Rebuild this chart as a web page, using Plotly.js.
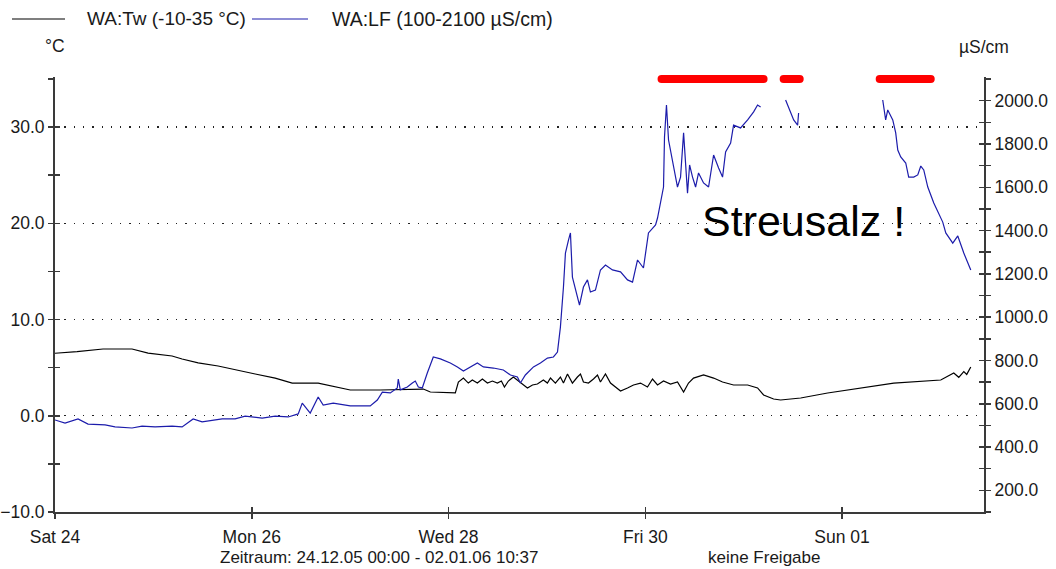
<!DOCTYPE html>
<html><head><meta charset="utf-8">
<script src="https://cdn.plot.ly/plotly-3.0.1.min.js"></script>
<style>html,body{margin:0;padding:0;background:#fff}</style>
</head><body><div id="chart" style="width:1056px;height:569px"></div>
<script>
// ---- data ----
const dayTickVals = [0, 2, 4, 6, 8];
const dayTickText = ['Sat 24', 'Mon 26', 'Wed 28', 'Fri 30', 'Sun 01'];
const periodEnd = 9.4424; // 02.01.06 10:37 in days after 24.12.05 00:00

// WA:Tw water temperature (°C), x in days since Sat 24 00:00
const tempDays = [0, 0.224, 0.488, 0.783, 0.946, 1.190, 1.292, 1.455, 1.658, 1.862, 2.035, 2.238, 2.411, 2.675, 3.001, 3.306, 3.744, 3.815, 4.069, 4.100, 4.151, 4.201, 4.242, 4.293, 4.344, 4.395, 4.446, 4.496, 4.537, 4.568, 4.608, 4.659, 4.710, 4.761, 4.802, 4.853, 4.903, 4.964, 5.005, 5.036, 5.086, 5.137, 5.168, 5.209, 5.259, 5.310, 5.341, 5.371, 5.422, 5.473, 5.514, 5.544, 5.595, 5.646, 5.697, 5.748, 5.819, 5.880, 5.951, 6.022, 6.073, 6.124, 6.185, 6.256, 6.327, 6.389, 6.439, 6.490, 6.592, 6.694, 6.785, 6.897, 7.040, 7.141, 7.202, 7.304, 7.375, 7.579, 7.853, 8.189, 8.525, 9.003, 9.135, 9.186, 9.237, 9.267, 9.308];
const tempValues = [6.5, 6.66, 6.94, 6.94, 6.52, 6.21, 5.9, 5.49, 5.17, 4.76, 4.34, 3.92, 3.4, 3.4, 2.68, 2.68, 2.78, 2.47, 2.37, 3.51, 3.92, 3.40, 3.72, 3.40, 3.82, 3.40, 3.61, 3.40, 3.61, 2.99, 3.61, 4.03, 3.61, 3.20, 2.89, 3.20, 3.30, 3.72, 3.40, 3.92, 3.40, 4.03, 3.40, 4.34, 3.40, 4.03, 4.34, 3.51, 3.40, 3.82, 4.24, 3.51, 4.34, 3.40, 2.99, 2.57, 2.89, 3.20, 3.40, 2.99, 3.82, 3.20, 3.61, 3.30, 3.51, 2.47, 3.4, 3.92, 4.24, 3.92, 3.51, 3.20, 3.20, 2.89, 2.16, 1.74, 1.64, 1.85, 2.37, 2.89, 3.40, 3.72, 4.44, 4.0, 4.6, 4.3, 5.07];

// WA:LF conductivity (µS/cm); null = gap (out of range)
const lfDays = [0, 0.102, 0.234, 0.336, 0.509, 0.610, 0.783, 0.885, 1.017, 1.190, 1.292, 1.404, 1.495, 1.699, 1.831, 1.933, 2.106, 2.238, 2.370, 2.472, 2.513, 2.543, 2.594, 2.675, 2.726, 2.828, 3.001, 3.204, 3.276, 3.327, 3.408, 3.479, 3.489, 3.510, 3.581, 3.632, 3.662, 3.693, 3.733, 3.784, 3.845, 3.917, 4.018, 4.090, 4.151, 4.293, 4.354, 4.456, 4.557, 4.629, 4.700, 4.730, 4.781, 4.863, 4.934, 5.005, 5.066, 5.107, 5.137, 5.168, 5.188, 5.219, 5.239, 5.259, 5.290, 5.331, 5.371, 5.412, 5.442, 5.493, 5.544, 5.595, 5.666, 5.748, 5.819, 5.870, 5.921, 5.981, 6.032, 6.104, 6.124, 6.165, 6.185, 6.195, 6.215, 6.236, 6.287, 6.327, 6.358, 6.389, 6.429, 6.450, 6.480, 6.511, 6.541, 6.592, 6.643, 6.694, 6.745, 6.785, 6.816, 6.867, 6.897, 6.968, 7.040, 7.101, 7.141, 7.172, 7.30, 7.426, 7.508, 7.548, 7.558, 8.0, 8.413, 8.443, 8.464, 8.515, 8.545, 8.566, 8.596, 8.647, 8.677, 8.728, 8.769, 8.800, 8.830, 8.871, 8.932, 9.023, 9.054, 9.125, 9.176, 9.237, 9.308];
const lfValues = [525, 511, 530, 506, 502, 493, 488, 497, 493, 497, 493, 530, 516, 530, 530, 543, 534, 543, 539, 553, 603, 585, 557, 631, 594, 603, 590, 590, 617, 654, 650, 673, 714, 664, 677, 696, 705, 677, 673, 742, 816, 807, 788, 770, 751, 788, 770, 765, 756, 733, 724, 696, 733, 770, 788, 811, 816, 839, 954, 1139, 1296, 1356, 1389, 1185, 1125, 1056, 1139, 1172, 1116, 1125, 1218, 1241, 1218, 1209, 1172, 1162, 1264, 1227, 1389, 1426, 1458, 1555, 1601, 1832, 1980, 1818, 1693, 1601, 1647, 1851, 1573, 1703, 1647, 1601, 1666, 1620, 1601, 1749, 1689, 1647, 1763, 1804, 1887, 1874, 1911, 1948, 1980, 1971, null, 2003, 1911, 1887, 1943, null, 2003, 1911, 1957, 1911, 1851, 1772, 1740, 1712, 1647, 1647, 1657, 1698, 1680, 1601, 1527, 1439, 1389, 1342, 1375, 1296, 1218];

// red flag periods (days)
const flagStart = [6.165, 6.450, 7.406, 8.382];
const flagEnd = [6.439, 7.202, 7.569, 8.901];

// ---- layout geometry ----
const W = 1056, H = 569, ML = 55, MR = 72, MT = 73, MB = 57;
const plotW = W - ML - MR, plotH = H - MT - MB;
const px = x => (x - ML) / plotW;
const py = y => (H - MB - y) / plotH;
const mainTop = py(79);
const FONT = '"Liberation Sans Narrow", "Arial Narrow", "Liberation Sans", Arial, sans-serif';
const TXT = '#1a1a1a';
const AX = '#3a3a3a';

const flagX = [], flagY = [];
flagStart.forEach((s, i) => { flagX.push(s, flagEnd[i], null); flagY.push(0.5, 0.5, null); });

const traces = [
  {x: tempDays, y: tempValues, xaxis: 'x', yaxis: 'y', mode: 'lines', line: {color: '#000', width: 1.2}, hoverinfo: 'skip'},
  {x: lfDays, y: lfValues, xaxis: 'x', yaxis: 'y2', mode: 'lines', connectgaps: false, line: {color: '#1c1cab', width: 1.2}, hoverinfo: 'skip'},
  {x: flagX, y: flagY, xaxis: 'x', yaxis: 'y5', mode: 'lines+markers', line: {color: '#ff0000', width: 8}, marker: {color: '#ff0000', size: 8}, hoverinfo: 'skip'},
  {x: [], y: [], xaxis: 'x2', yaxis: 'y', hoverinfo: 'skip'},
  {x: [], y: [], xaxis: 'x', yaxis: 'y3', hoverinfo: 'skip'},
  {x: [], y: [], xaxis: 'x', yaxis: 'y4', hoverinfo: 'skip'}
];

const tickFont = {family: FONT, size: 17.5, color: TXT};
const layout = {
  width: W, height: H,
  margin: {l: ML, r: MR, t: MT, b: MB, pad: 0},
  paper_bgcolor: '#fff', plot_bgcolor: '#fff',
  showlegend: false,
  font: {family: FONT, color: TXT},
  xaxis: {
    domain: [0, 1], anchor: 'y', range: [0, periodEnd], tickmode: 'array',
    tickvals: dayTickVals, ticktext: dayTickText, ticks: 'outside', ticklen: 5, tickwidth: 1.5, tickcolor: AX,
    showline: true, linecolor: AX, linewidth: 2, mirror: true, showgrid: false, zeroline: false,
    tickfont: tickFont, ticklabelstandoff: 3
  },
  xaxis2: {
    overlaying: 'x', anchor: 'y', side: 'bottom', range: [0, periodEnd], tickmode: 'array',
    tickvals: dayTickVals, ticks: 'inside', ticklen: 5, tickwidth: 1.5, tickcolor: AX,
    showticklabels: false, showline: false, showgrid: false, zeroline: false
  },
  yaxis: {
    domain: [0, mainTop], anchor: 'x', range: [-10, 35], tickmode: 'linear', tick0: -10, dtick: 10,
    tickformat: '.1f', ticks: 'outside', ticklen: 5, tickwidth: 1.5, tickcolor: AX,
    minor: {tickmode: 'linear', tick0: -10, dtick: 5, ticks: 'outside', ticklen: 5, tickwidth: 1.5, tickcolor: AX, showgrid: false},
    showline: true, linecolor: AX, linewidth: 2, zeroline: false,
    showgrid: true, gridcolor: '#222', gridwidth: 1.3, griddash: '1.3px,8px',
    tickfont: tickFont
  },
  yaxis2: {
    overlaying: 'y', side: 'right', anchor: 'x', range: [100, 2100], tickmode: 'linear', tick0: 200, dtick: 200,
    tickformat: '.1f', ticks: 'outside', ticklen: 5, tickwidth: 1.5, tickcolor: AX,
    minor: {tickmode: 'linear', tick0: 100, dtick: 100, ticks: 'outside', ticklen: 5, tickwidth: 1.5, tickcolor: AX, showgrid: false},
    showline: true, linecolor: AX, linewidth: 2, showgrid: false, zeroline: false,
    tickfont: tickFont
  },
  yaxis3: {
    overlaying: 'y', side: 'left', anchor: 'x', range: [-10, 35], tickmode: 'linear', tick0: -10, dtick: 5,
    ticks: 'inside', ticklen: 5, tickwidth: 1.5, tickcolor: AX,
    showticklabels: false, showline: false, showgrid: false, zeroline: false
  },
  yaxis4: {
    overlaying: 'y', side: 'right', anchor: 'x', range: [100, 2100], tickmode: 'linear', tick0: 100, dtick: 100,
    ticks: 'inside', ticklen: 5, tickwidth: 1.5, tickcolor: AX,
    showticklabels: false, showline: false, showgrid: false, zeroline: false
  },
  yaxis5: {
    domain: [py(85), 1], anchor: 'x', range: [0, 1], visible: false, fixedrange: true
  },
  shapes: [
    {type: 'line', xref: 'paper', yref: 'paper', x0: px(12), x1: px(65), y0: py(19), y1: py(19), line: {color: '#000', width: 1.2}},
    {type: 'line', xref: 'paper', yref: 'paper', x0: px(252), x1: px(308), y0: py(19), y1: py(19), line: {color: '#1c1cab', width: 1.2}}
  ],
  annotations: [
    {xref: 'paper', yref: 'paper', x: px(85), y: py(19), xanchor: 'left', yanchor: 'middle', showarrow: false, text: 'WA:Tw (-10-35 °C)', font: {family: FONT, size: 19, color: TXT}},
    {xref: 'paper', yref: 'paper', x: px(330), y: py(19), xanchor: 'left', yanchor: 'middle', showarrow: false, text: 'WA:LF (100-2100 µS/cm)', font: {family: FONT, size: 19.5, color: TXT}},
    {xref: 'paper', yref: 'paper', x: px(55), y: py(46), xanchor: 'center', yanchor: 'middle', showarrow: false, text: '°C', font: {family: FONT, size: 17.5, color: TXT}},
    {xref: 'paper', yref: 'paper', x: px(984), y: py(47), xanchor: 'center', yanchor: 'middle', showarrow: false, text: 'µS/cm', font: {family: FONT, size: 17.5, color: TXT}},
    {xref: 'paper', yref: 'paper', x: px(379), y: py(557), xanchor: 'center', yanchor: 'middle', showarrow: false, text: 'Zeitraum: 24.12.05 00:00 - 02.01.06 10:37', font: {family: FONT, size: 17, color: TXT}},
    {xref: 'paper', yref: 'paper', x: px(764), y: py(557), xanchor: 'center', yanchor: 'middle', showarrow: false, text: 'keine Freigabe', font: {family: FONT, size: 17, color: TXT}},
    {xref: 'paper', yref: 'paper', x: px(803), y: py(221), xanchor: 'center', yanchor: 'middle', showarrow: false, text: 'Streusalz !', font: {family: FONT, size: 43, color: '#000'}}
  ]
};

Plotly.newPlot('chart', traces, layout, {staticPlot: true, displayModeBar: false});
</script>
</body></html>
